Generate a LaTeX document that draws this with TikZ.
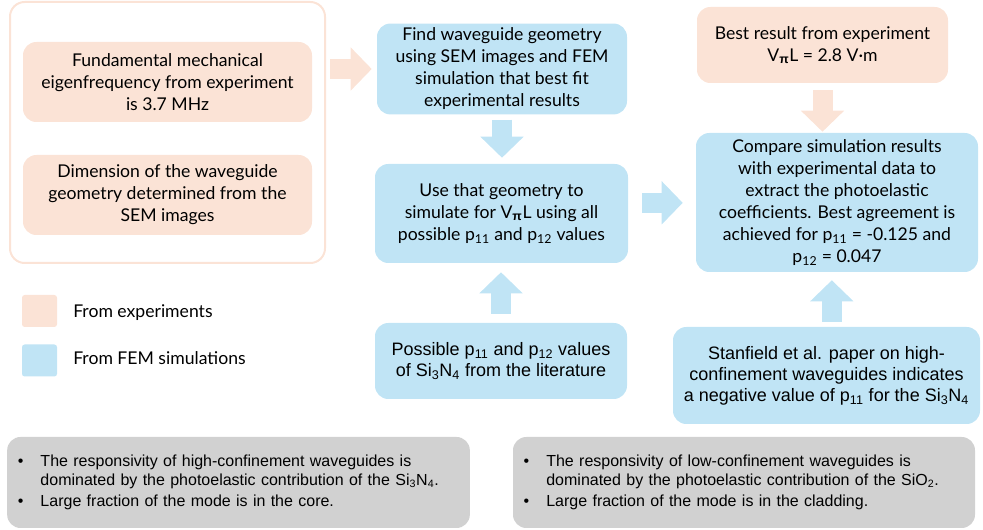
\documentclass[tikz,border=0pt]{standalone}
\usepackage{fontspec}
\setmainfont{Lato}
\newfontfamily\arialfont{Liberation Sans}
\usetikzlibrary{arrows.meta}

\definecolor{expcol}{RGB}{251,227,214}
\definecolor{simcol}{RGB}{192,228,245}
\definecolor{notecol}{RGB}{209,209,209}

\newcommand{\vpil}{V\textsubscript{{\arialfont\bfseries π}}L}
\newcommand{\pel}[1]{p\textsubscript{#1}}
\newcommand{\SiN}{Si\textsubscript{3}N\textsubscript{4}}
\newcommand{\bul}{\makebox[17pt][l]{\textbullet}}
\newcommand{\ind}{\hspace*{17pt}}

\begin{document}
\begin{tikzpicture}[x=0.75pt,y=0.75pt,yscale=-1,xscale=1,
    expbox/.style={fill=expcol, rounded corners=10pt, align=center, font=\fontsize{13.2}{16.5}\selectfont},
    simbox/.style={fill=simcol, rounded corners=10pt, align=center, font=\fontsize{13.2}{16.5}\selectfont},
    litbox/.style={simbox, font=\arialfont\fontsize{13.5}{15.8}\selectfont},
    notebox/.style={fill=notecol, rounded corners=10pt, align=left, inner xsep=8pt, font=\arialfont\fontsize{12}{13.8}\selectfont},
    blockarrow/.style={line width=15pt, -{Triangle[length=15.75pt,width=31.5pt]}},
    keybox/.style={rounded corners=2pt, minimum width=26.25pt, minimum height=24pt}]
  \useasboundingbox (0,0) rectangle (983,530);

  % experiment inputs
  \node [draw=expcol, line width=1.5pt, rounded corners=11pt, minimum width=236.25pt, minimum height=195.75pt] (grp) at (167.5,132.5) {};
  \node [expbox, minimum width=216.75pt, minimum height=60pt] (freq) at (167.5,82) {Fundamental mechanical\\eigenfrequency from experiment\\is 3.7 MHz};
  \node [expbox, minimum width=216.75pt, minimum height=60pt] (dim) at (167.5,195) {Dimension of the waveguide\\geometry determined from the\\SEM images};

  % simulation chain
  \node [simbox, minimum width=187.5pt, minimum height=61.5pt] (find) at (502,69) {Find waveguide geometry\\using SEM images and FEM\\simulation that best fit\\experimental results};
  \node [simbox, minimum width=189.75pt, minimum height=74.25pt] (use) at (501.5,213.5) {Use that geometry to\\simulate for \vpil{} using all\\possible \pel{11} and \pel{12} values};
  \node [litbox, minimum width=189pt, minimum height=57pt] (poss) at (501,361) {Possible \pel{11} and \pel{12} values\\of \SiN{} from the literature};

  \node [expbox, minimum width=188.25pt, minimum height=57pt] (best) at (822.5,45) {Best result from experiment\\\vpil{} = 2.8 V·m};
  \node [simbox, minimum width=211.5pt, minimum height=104.25pt] (comp) at (837,202.5) {Compare simulation results\\with experimental data to\\extract the photoelastic\\coefficients. Best agreement is\\achieved for \pel{11} = -0.125 and\\\pel{12} = 0.047};
  \node [litbox, minimum width=230.25pt, minimum height=72.75pt] (stan) at (826.5,375.5) {Stanfield et al. paper on high-\\confinement waveguides indicates\\a negative value of \pel{11} for the \SiN};

  % arrows
  \draw [blockarrow, expcol, shorten <=3pt, shorten >=3.75pt] (grp.east |- find.west) -- (find.west);
  \draw [blockarrow, simcol, shorten <=3.75pt, shorten >=4.5pt] (find.south) -- (find.south |- use.north);
  \draw [blockarrow, simcol, shorten <=6.75pt, shorten >=6.75pt] (poss.north) -- (poss.north |- use.south);
  \draw [blockarrow, simcol, shorten <=10.5pt, shorten >=9.75pt] ([yshift=-8pt]use.east) -- ([yshift=-8pt]use.east -| comp.west);
  \draw [blockarrow, expcol, shorten <=5.25pt, shorten >=0.75pt] (best.south) -- (best.south |- comp.north);
  \draw [blockarrow, simcol, shorten <=3.75pt, shorten >=6pt] ([xshift=4pt]stan.north) -- ([xshift=4pt]stan.north |- comp.south);

  % legend
  \node [keybox, fill=expcol] (keyexp) at (39.5,311) {};
  \node [keybox, fill=simcol] (keysim) at (39.5,360.5) {};
  \node [anchor=west, inner sep=0.75pt, font=\fontsize{13.2}{16.5}\selectfont] (lblexp) at (72,313) {From experiments};
  \node [anchor=west, inner sep=0.75pt, font=\fontsize{13.2}{16.5}\selectfont] (lblsim) at (72,358) {From FEM simulations};

  % notes
  \node [notebox, text width=331pt, minimum height=68.25pt] (high) at (238.5,482.5) {\bul The responsivity of high-confinement waveguides is\\\ind dominated by the photoelastic contribution of the \SiN.\\[2pt]\bul Large fraction of the mode is in the core.};
  \node [notebox, text width=330.5pt, minimum height=68.25pt] (low) at (744,482.5) {\bul The responsivity of low-confinement waveguides is\\\ind dominated by the photoelastic contribution of the SiO\textsubscript{2}.\\[2pt]\bul Large fraction of the mode is in the cladding.};
\end{tikzpicture}
\end{document}
